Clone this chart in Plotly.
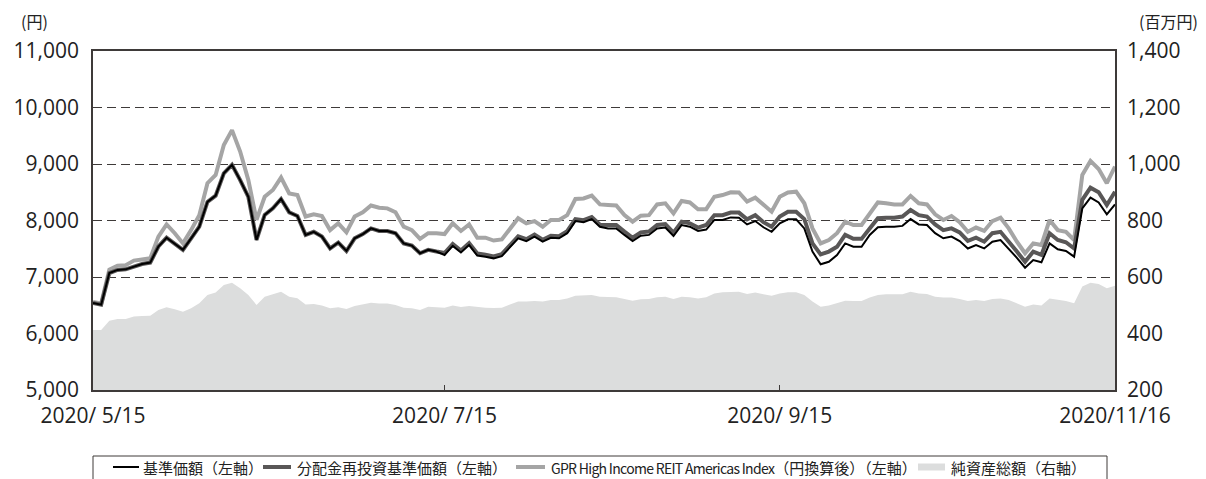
import plotly.graph_objects as go
import pandas as pd

# ---- data ----
jp_holidays = ["2020-07-23", "2020-07-24", "2020-08-10", "2020-09-21", "2020-09-22", "2020-11-03"]
dates = [d.strftime("%Y-%m-%d") for d in pd.bdate_range("2020-05-15", "2020-11-16")
         if d.strftime("%Y-%m-%d") not in jp_holidays]

nav = [6540, 6510, 7070, 7125, 7135, 7180, 7230, 7255, 7540, 7695,
       7595, 7480, 7685, 7890, 8330, 8440, 8835, 8985, 8715, 8420,
       7655, 8100, 8215, 8380, 8145, 8080, 7745, 7800, 7715, 7505,
       7610, 7460, 7685, 7760, 7860, 7815, 7815, 7775, 7595, 7555,
       7420, 7480, 7450, 7390, 7550, 7435, 7565, 7380, 7360, 7330,
       7370, 7535, 7685, 7635, 7715, 7625, 7695, 7685, 7775, 7990,
       7970, 8025, 7890, 7860, 7860, 7745, 7635, 7730, 7745, 7860,
       7875, 7725, 7920, 7890, 7815, 7840, 8010, 8010, 8055, 8050,
       7930, 7990, 7880, 7800, 7950, 8020, 8020, 7860, 7450, 7225,
       7270, 7390, 7595, 7535, 7535, 7745, 7880, 7890, 7890, 7905,
       8025, 7930, 7920, 7775, 7685, 7715, 7635, 7505, 7565, 7505,
       7625, 7655, 7505, 7340, 7165, 7300, 7260, 7595, 7490, 7460,
       7360, 8215, 8405, 8320, 8110, 8285]

nav_reinvest = [6540, 6510, 7070, 7125, 7135, 7180, 7230, 7255, 7540, 7695,
                7595, 7480, 7685, 7890, 8330, 8440, 8835, 8985, 8715, 8420,
                7655, 8100, 8215, 8380, 8145, 8080, 7745, 7800, 7715, 7505,
                7610, 7460, 7685, 7760, 7860, 7815, 7815, 7775, 7595, 7555,
                7420, 7480, 7450, 7425, 7585, 7470, 7600, 7415, 7395, 7365,
                7405, 7570, 7720, 7670, 7750, 7660, 7730, 7720, 7810, 8025,
                8005, 8060, 7925, 7920, 7920, 7805, 7695, 7790, 7805, 7920,
                7935, 7785, 7980, 7950, 7875, 7920, 8095, 8095, 8140, 8140,
                8020, 8095, 7970, 7890, 8070, 8155, 8155, 8025, 7595, 7400,
                7450, 7535, 7745, 7675, 7675, 7860, 8040, 8050, 8050, 8070,
                8185, 8095, 8070, 7930, 7830, 7860, 7790, 7640, 7695, 7625,
                7775, 7800, 7635, 7450, 7270, 7450, 7390, 7775, 7655, 7615,
                7505, 8365, 8580, 8500, 8275, 8510]

gpr_index = [6560, 6530, 7130, 7200, 7210, 7290, 7310, 7330, 7715, 7930,
             7775, 7595, 7830, 8095, 8660, 8805, 9335, 9600, 9220, 8715,
             8010, 8420, 8540, 8760, 8480, 8450, 8070, 8110, 8080, 7830,
             7950, 7790, 8070, 8145, 8265, 8225, 8215, 8145, 7890, 7830,
             7675, 7775, 7775, 7760, 7950, 7815, 7930, 7695, 7695, 7645,
             7665, 7860, 8040, 7950, 7990, 7890, 8010, 8010, 8095, 8380,
             8390, 8440, 8285, 8275, 8265, 8095, 7980, 8085, 8095, 8285,
             8305, 8125, 8345, 8320, 8200, 8200, 8420, 8450, 8500, 8495,
             8335, 8405, 8275, 8155, 8420, 8495, 8510, 8305, 7860, 7595,
             7655, 7775, 7980, 7920, 7920, 8125, 8320, 8305, 8285, 8285,
             8435, 8305, 8285, 8110, 8010, 8080, 7970, 7800, 7875, 7815,
             7990, 8050, 7860, 7625, 7420, 7595, 7565, 8010, 7830, 7800,
             7655, 8805, 9055, 8910, 8660, 8955]

net_assets = [412, 412, 445, 451, 451, 460, 462, 463, 483, 493,
              486, 477, 489, 507, 536, 545, 572, 580, 560, 536,
              501, 530, 539, 548, 530, 525, 503, 504, 499, 489,
              493, 487, 497, 503, 509, 506, 506, 501, 491, 489,
              483, 495, 494, 491, 499, 494, 497, 493, 491, 490,
              491, 503, 513, 513, 515, 513, 519, 519, 524, 534,
              534, 536, 530, 528, 528, 522, 516, 521, 522, 528,
              530, 522, 530, 528, 524, 528, 542, 546, 548, 548,
              540, 545, 539, 534, 542, 546, 546, 536, 513, 495,
              499, 507, 516, 515, 515, 527, 536, 539, 539, 539,
              548, 542, 540, 530, 527, 527, 522, 515, 519, 515,
              522, 524, 519, 507, 495, 503, 499, 524, 519, 515,
              507, 566, 580, 575, 560, 569]

x_tick_vals = ["2020-05-15", "2020-07-15", "2020-09-15", "2020-11-16"]
x_tick_text = ["2020/ 5/15", "2020/ 7/15", "2020/ 9/15", "2020/11/16"]
left_ticks = [5000, 6000, 7000, 8000, 9000, 10000, 11000]
left_tick_text = ["5,000", "6,000", "7,000", "8,000", "9,000", "10,000", "11,000"]
right_ticks = [200, 400, 600, 800, 1000, 1200, 1400]
right_tick_text = ["200", "400", "600", "800", "1,000", "1,200", "1,400"]

names = ["基準価額（左軸）", "分配金再投資基準価額（左軸）",
         "<span style=\"font-size:14px;letter-spacing:-0.7px\">GPR High Income REIT Americas Index</span>（円換算後）（左軸）",
         "純資産総額（右軸）"]

FONT = "Noto Sans CJK JP"
NUMFONT = "Open Sans"
TXT = "#222222"
C_NAV, C_RE, C_GPR, C_AREA = "#000000", "#595757", "#a5a5a5", "#dcdddd"

fig = go.Figure()
# area on the primary (right-side) axis so the price lines overlay it
fig.add_trace(go.Scatter(x=dates, y=net_assets, name=names[3], mode="lines",
                         fill="tozeroy", fillcolor=C_AREA, line=dict(width=0, color=C_AREA),
                         yaxis="y"))
fig.add_trace(go.Scatter(x=dates, y=gpr_index, name=names[2], mode="lines",
                         line=dict(color=C_GPR, width=4), yaxis="y2"))
fig.add_trace(go.Scatter(x=dates, y=nav_reinvest, name=names[1], mode="lines",
                         line=dict(color=C_RE, width=4), yaxis="y2"))
fig.add_trace(go.Scatter(x=dates, y=nav, name=names[0], mode="lines",
                         line=dict(color=C_NAV, width=2), yaxis="y2"))

# ---- hand-placed legend (single row, boxed, as in the reference) ----
H = 339.0  # plot height in px


def py(px):  # page pixel row -> paper y
    return (390 - px) / H


def pxx(px):  # page pixel column -> paper x
    return (px - 93) / 1022.0


shapes = [dict(type="rect", xref="paper", yref="paper", x0=pxx(93), x1=pxx(1107),
               y0=py(456), y1=py(495), line=dict(color="#3e3a39", width=1), fillcolor="rgba(0,0,0,0)")]
legend_items = [(113, 139, C_NAV, 2, 141, names[0]),
                (263, 291, C_RE, 4, 295, names[1]),
                (516, 545, C_GPR, 4, 549, names[2]),
                (918, 945, C_AREA, 7, 949, names[3])]
annotations = []
for x0, x1, col, w, tx, label in legend_items:
    shapes.append(dict(type="line", xref="paper", yref="paper", x0=pxx(x0), x1=pxx(x1),
                       y0=py(467), y1=py(467), line=dict(color=col, width=w)))
    annotations.append(dict(text=label, xref="paper", yref="paper", x=pxx(tx), y=py(467),
                            xanchor="left", yanchor="middle", showarrow=False,
                            font=dict(size=15, color=TXT)))

annotations += [
    dict(text="(円)", xref="paper", yref="paper", x=0, xshift=-59, y=1.0, yshift=30,
         xanchor="center", yanchor="middle", showarrow=False, font=dict(size=16)),
    dict(text="(百万円)", xref="paper", yref="paper", x=1.0, xshift=85, y=1.0, yshift=30,
         xanchor="right", yanchor="middle", showarrow=False, font=dict(size=16)),
]

tickfont = dict(family=NUMFONT, size=21, weight=400, color=TXT)

# page body has an 8px margin: figure is shifted (8, 8) inside the 1206x479 window
fig.update_layout(
    width=1198, height=471,
    margin=dict(l=85, r=91, t=43, b=89, autoexpand=False),
    paper_bgcolor="white", plot_bgcolor="white",
    font=dict(family=FONT, color=TXT, size=20),
    showlegend=False,
    shapes=shapes,
    annotations=annotations,
    xaxis=dict(type="category", range=[0, len(dates) - 1], tickmode="array",
               tickvals=x_tick_vals, ticktext=x_tick_text, ticks="inside", ticklen=5,
               tickcolor="#3e3a39", showgrid=False, showline=True, mirror=True,
               linecolor="#3e3a39", linewidth=1.5, tickfont=tickfont, ticklabelstandoff=6),
    yaxis=dict(side="right", range=[200, 1400], tickmode="array", tickvals=right_ticks,
               ticktext=right_tick_text, showgrid=True, gridcolor="#3e3a39", gridwidth=1,
               griddash="9px,5px", showline=True, linecolor="#3e3a39", linewidth=1.5,
               ticks="", zeroline=False, ticklabelstandoff=6, tickfont=tickfont),
    yaxis2=dict(side="left", overlaying="y", range=[5000, 11000], tickmode="array",
                tickvals=left_ticks, ticktext=left_tick_text, showgrid=False,
                showline=True, linecolor="#3e3a39", linewidth=1.5, ticks="",
                zeroline=False, ticklabelstandoff=8, tickfont=tickfont),
)

fig.write_html("out.html")
